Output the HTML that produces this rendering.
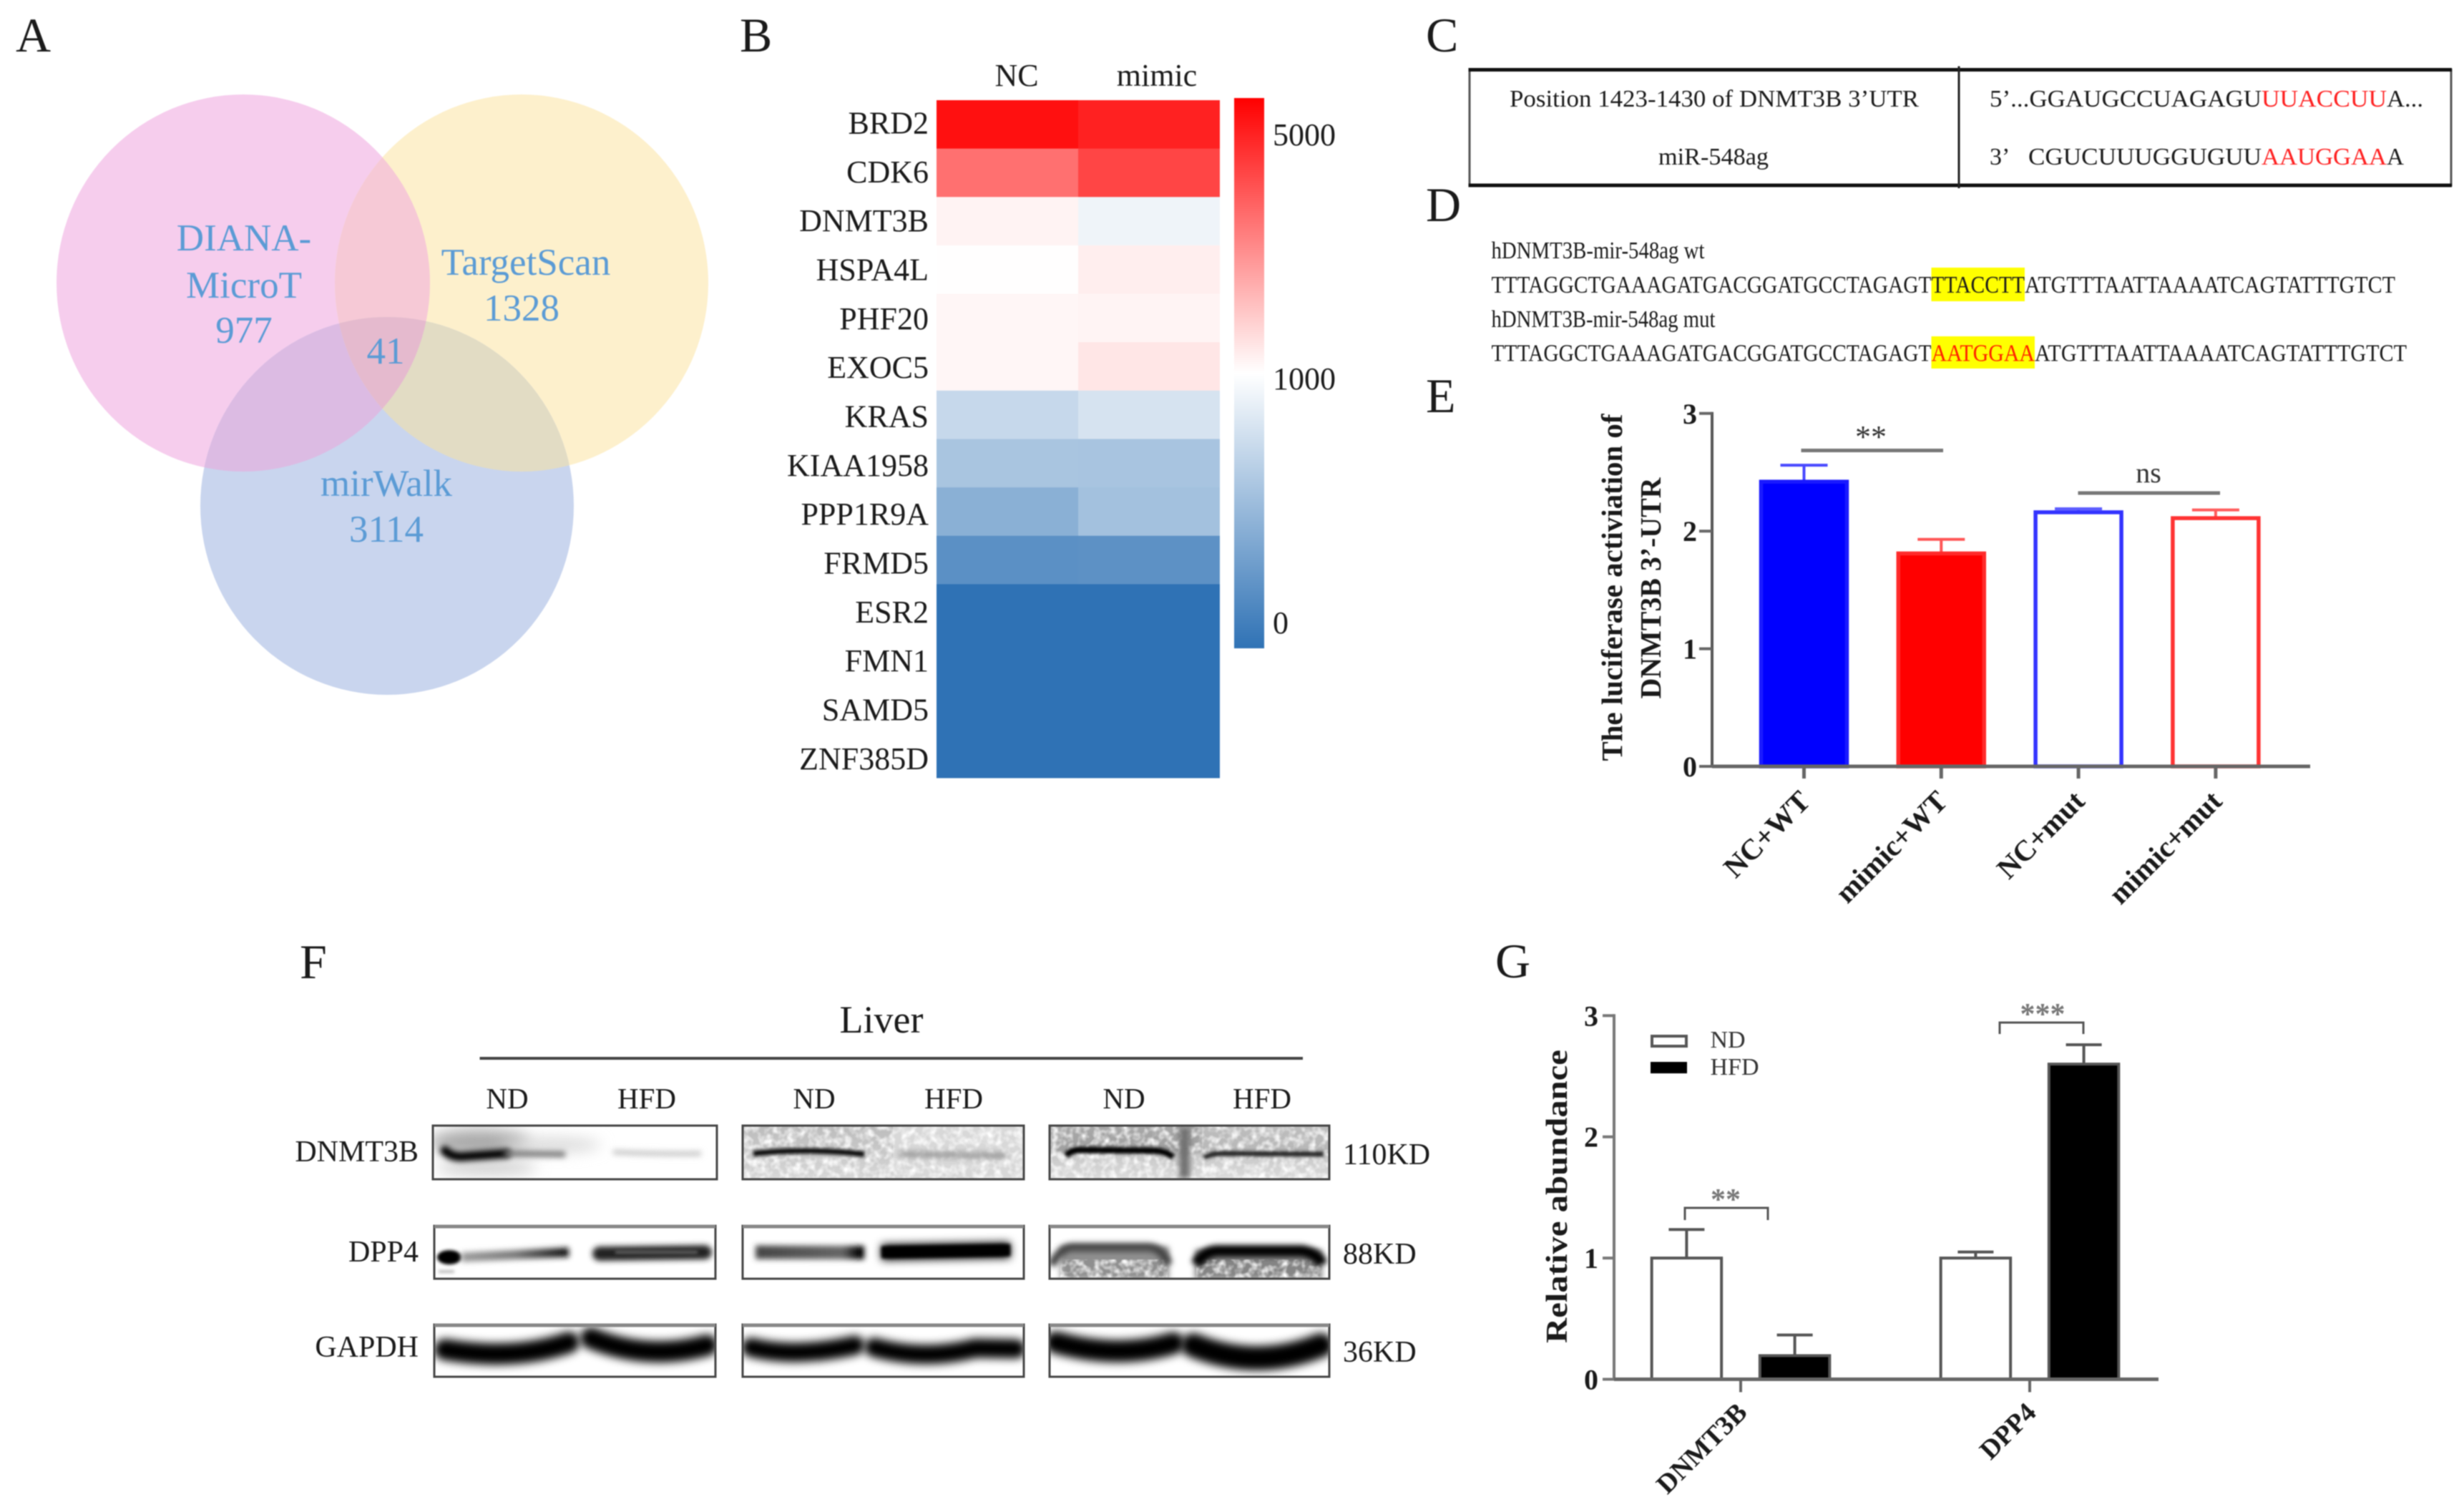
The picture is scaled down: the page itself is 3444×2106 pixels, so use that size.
<!DOCTYPE html>
<html>
<head>
<meta charset="utf-8">
<title>Multi-panel figure</title>
<style>
html,body{margin:0;padding:0;background:#fff;}
body{width:3444px;height:2106px;overflow:hidden;}
#figure{display:block;filter:blur(0.9px);}
text{font-family:"Liberation Serif","Noto Serif CJK SC",serif;fill:#1a1a1a;}
.letter{font-size:68px;}
.venn{font-size:53px;fill:#5b9bd5;text-anchor:middle;}
.seq{font-size:34px;}
.b{font-weight:bold;}
</style>
</head>
<body>
<svg id="figure" xmlns="http://www.w3.org/2000/svg" width="3444" height="2106" viewBox="0 0 3444 2106">
<defs>
<clipPath id="cp-pink"><ellipse cx="340" cy="395.5" rx="261" ry="263.5"/></clipPath>
<clipPath id="cp-yellow"><ellipse cx="729" cy="395.5" rx="261" ry="263.5"/></clipPath>
<linearGradient id="cb-grad" x1="0" y1="0" x2="0" y2="1">
<stop offset="0" stop-color="#ff0000"/><stop offset="0.5" stop-color="#ffffff"/><stop offset="1" stop-color="#2f72b5"/>
</linearGradient>
<linearGradient id="blot-bg-a" x1="0" y1="0" x2="0" y2="1"><stop offset="0" stop-color="#bcbcbc"/><stop offset="0.5" stop-color="#c8c8c8"/><stop offset="1" stop-color="#d8d8d8"/></linearGradient>
<linearGradient id="blot-bg-b" x1="0" y1="0" x2="0" y2="1"><stop offset="0" stop-color="#a8a8a8"/><stop offset="0.45" stop-color="#a0a0a0"/><stop offset="0.55" stop-color="#c8c8c8"/><stop offset="1" stop-color="#dcdcdc"/></linearGradient>
<linearGradient id="dpp4-band-a" gradientUnits="userSpaceOnUse" x1="645" y1="0" x2="795" y2="0"><stop offset="0" stop-color="#999"/><stop offset="0.5" stop-color="#777"/><stop offset="1" stop-color="#080808"/></linearGradient>
<linearGradient id="dpp4-band-b" gradientUnits="userSpaceOnUse" x1="1056" y1="0" x2="1208" y2="0"><stop offset="0" stop-color="#444"/><stop offset="0.8" stop-color="#666"/><stop offset="0.95" stop-color="#000"/><stop offset="1" stop-color="#000"/></linearGradient>
<filter id="bl2" filterUnits="userSpaceOnUse" x="560" y="1540" width="1340" height="420"><feGaussianBlur stdDeviation="2.2"/></filter>
<filter id="bl4" filterUnits="userSpaceOnUse" x="560" y="1540" width="1340" height="420"><feGaussianBlur stdDeviation="4"/></filter>
<filter id="bl6" filterUnits="userSpaceOnUse" x="560" y="1540" width="1340" height="420"><feGaussianBlur stdDeviation="6"/></filter>
<filter id="bl9" filterUnits="userSpaceOnUse" x="560" y="1540" width="1340" height="420"><feGaussianBlur stdDeviation="10"/></filter>
<filter id="noise" x="0" y="0" width="100%" height="100%"><feTurbulence type="fractalNoise" baseFrequency="0.1" numOctaves="2" seed="4"/><feColorMatrix type="matrix" values="0 0 0 0 1  0 0 0 0 1  0 0 0 0 1  2.2 0 0 0 -0.85"/></filter>
<clipPath id="c11"><rect x="605" y="1573" width="397" height="75"/></clipPath>
<clipPath id="c12"><rect x="1038" y="1573" width="393" height="75"/></clipPath>
<clipPath id="c13"><rect x="1467" y="1573" width="391" height="75"/></clipPath>
<clipPath id="c21"><rect x="607" y="1713" width="393" height="74"/></clipPath>
<clipPath id="c22"><rect x="1038" y="1713" width="393" height="74"/></clipPath>
<clipPath id="c23"><rect x="1467" y="1713" width="391" height="74"/></clipPath>
<clipPath id="c31"><rect x="607" y="1851" width="393" height="73"/></clipPath>
<clipPath id="c32"><rect x="1038" y="1851" width="393" height="73"/></clipPath>
<clipPath id="c33"><rect x="1467" y="1851" width="391" height="73"/></clipPath>
</defs>

<!-- Panel A: Venn -->
<g>
<text class="letter" x="22" y="72">A</text>
<ellipse cx="340" cy="395.5" rx="261" ry="263.5" fill="#f6cded"/>
<ellipse cx="729" cy="395.5" rx="261" ry="263.5" fill="#fdf0cc"/>
<ellipse cx="541" cy="707" rx="261" ry="264" fill="#c9d5ee"/>
<g clip-path="url(#cp-pink)"><ellipse cx="729" cy="395.5" rx="261" ry="263.5" fill="#f6c9d6"/></g>
<g clip-path="url(#cp-pink)"><ellipse cx="541" cy="707" rx="261" ry="264" fill="#dcbbe3"/></g>
<g clip-path="url(#cp-yellow)"><ellipse cx="541" cy="707" rx="261" ry="264" fill="#e2dcc4"/></g>
<g clip-path="url(#cp-pink)"><g clip-path="url(#cp-yellow)"><ellipse cx="541" cy="707" rx="261" ry="264" fill="#e5bace"/></g></g>
<text class="venn" x="341" y="350">DIANA-</text>
<text class="venn" x="341" y="416">MicroT</text>
<text class="venn" x="341" y="479">977</text>
<text class="venn" x="735" y="384">TargetScan</text>
<text class="venn" x="729" y="448">1328</text>
<text class="venn" x="539" y="508">41</text>
<text class="venn" x="540" y="693">mirWalk</text>
<text class="venn" x="540" y="757">3114</text>
</g>

<!-- Panel B: heatmap -->
<g id="panel-b">
<text class="letter" x="1034" y="72">B</text>
<text x="1421" y="120" font-size="44" text-anchor="middle">NC</text>
<text x="1617" y="120" font-size="44" text-anchor="middle">mimic</text>
<rect x="1725" y="137" width="42" height="769" fill="url(#cb-grad)"/>
</g>

<!-- Panel C: table -->
<g>
<text class="letter" x="1993" y="72">C</text>
<rect x="2054" y="97.5" width="1372" height="161.5" fill="none" stroke="#555" stroke-width="3"/>
<line x1="2052.5" y1="97.5" x2="3427" y2="97.5" stroke="#111" stroke-width="5"/>
<line x1="2052.5" y1="259" x2="3427" y2="259" stroke="#111" stroke-width="5"/>
<line x1="2738" y1="92.5" x2="2738" y2="263" stroke="#222" stroke-width="3"/>
<text class="seq" x="2110" y="149" textLength="572" lengthAdjust="spacingAndGlyphs">Position 1423-1430 of DNMT3B 3’UTR</text>
<text class="seq" x="2318" y="230" textLength="154" lengthAdjust="spacingAndGlyphs">miR-548ag</text>
<text class="seq" x="2781" y="149" textLength="380" lengthAdjust="spacingAndGlyphs">5’...GGAUGCCUAGAGU</text>
<text class="seq" x="3161" y="149" textLength="175" lengthAdjust="spacingAndGlyphs" style="fill:#ff2020">UUACCUU</text>
<text class="seq" x="3336" y="149" textLength="51" lengthAdjust="spacingAndGlyphs">A...</text>
<text class="seq" x="2781" y="230">3’</text>
<text class="seq" x="2835" y="230" textLength="326" lengthAdjust="spacingAndGlyphs">CGUCUUUGGUGUU</text>
<text class="seq" x="3161" y="230" textLength="175" lengthAdjust="spacingAndGlyphs" style="fill:#ff2020">AAUGGAA</text>
<text class="seq" x="3336" y="230" textLength="24" lengthAdjust="spacingAndGlyphs">A</text>
</g>

<!-- Panel D: sequences -->
<g>
<text class="letter" x="1993" y="309">D</text>
<text class="seq" x="2084.5" y="361" textLength="298" lengthAdjust="spacingAndGlyphs">hDNMT3B-mir-548ag wt</text>
<rect x="2699.5" y="374" width="130.5" height="47" fill="#ffff00"/>
<text class="seq" x="2084.5" y="409" textLength="615" lengthAdjust="spacingAndGlyphs">TTTAGGCTGAAAGATGACGGATGCCTAGAGT</text>
<text class="seq" x="2699.5" y="409" textLength="130.5" lengthAdjust="spacingAndGlyphs">TTACCTT</text>
<text class="seq" x="2830" y="409" textLength="518" lengthAdjust="spacingAndGlyphs">ATGTTTAATTAAAATCAGTATTTGTCT</text>
<text class="seq" x="2084.5" y="457" textLength="313" lengthAdjust="spacingAndGlyphs">hDNMT3B-mir-548ag mut</text>
<rect x="2699.5" y="470" width="144.5" height="45" fill="#ffff00"/>
<text class="seq" x="2084.5" y="504.5" textLength="615" lengthAdjust="spacingAndGlyphs">TTTAGGCTGAAAGATGACGGATGCCTAGAGT</text>
<text class="seq" x="2699.5" y="504.5" textLength="144.5" lengthAdjust="spacingAndGlyphs" style="fill:#ff2000">AATGGAA</text>
<text class="seq" x="2844" y="504.5" textLength="520" lengthAdjust="spacingAndGlyphs">ATGTTTAATTAAAATCAGTATTTGTCT</text>
</g>

<!-- Panel E: luciferase bars -->
<g id="panel-e">
<text class="letter" x="1993" y="576">E</text>
<text class="b" transform="translate(2267,821) rotate(-90)" font-size="41" text-anchor="middle" textLength="485" lengthAdjust="spacingAndGlyphs">The luciferase activiation of</text>
<text class="b" transform="translate(2321,822) rotate(-90)" font-size="41" text-anchor="middle" textLength="309" lengthAdjust="spacingAndGlyphs">DNMT3B 3’-UTR</text>
<line x1="2517.5" y1="629.5" x2="2716" y2="629.5" stroke="#777" stroke-width="5"/>
<text x="2615" y="625" font-size="44" text-anchor="middle" style="fill:#333">**</text>
<line x1="2904.5" y1="689" x2="3103" y2="689" stroke="#777" stroke-width="5"/>
<text x="3003" y="674" font-size="40" text-anchor="middle" style="fill:#333">ns</text>
</g>

<!-- Panel F: western blots -->
<g>
<text class="letter" x="419" y="1367">F</text>
<text x="1232" y="1443" font-size="54" text-anchor="middle">Liver</text>
<line x1="670.5" y1="1479" x2="1821" y2="1479" stroke="#444" stroke-width="4"/>
<g font-size="41" text-anchor="middle">
<text x="709" y="1549">ND</text>
<text x="904" y="1549">HFD</text>
<text x="1138" y="1549">ND</text>
<text x="1333" y="1549">HFD</text>
<text x="1571" y="1549">ND</text>
<text x="1764" y="1549">HFD</text>
</g>
<g font-size="42" text-anchor="end">
<text x="585" y="1623">DNMT3B</text>
<text x="585" y="1763">DPP4</text>
<text x="585" y="1896">GAPDH</text>
</g>
<g font-size="42">
<text x="1877" y="1627">110KD</text>
<text x="1877" y="1766">88KD</text>
<text x="1877" y="1903">36KD</text>
</g>

<g clip-path="url(#c11)">
<ellipse cx="670" cy="1596" rx="70" ry="18" fill="#a8a8a8" filter="url(#bl9)"/>
<ellipse cx="770" cy="1600" rx="70" ry="10" fill="#d8d8d8" filter="url(#bl9)"/>
<ellipse cx="680" cy="1632" rx="70" ry="11" fill="#d0d0d0" filter="url(#bl9)"/>
<path d="M622,1608 Q632,1618 650,1616 L708,1612" stroke="#000" stroke-width="13" fill="none" stroke-linecap="round" filter="url(#bl4)"/>
<path d="M705,1612 L790,1613" stroke="#777" stroke-width="8" fill="none" filter="url(#bl4)"/>
<path d="M857,1610 Q920,1613 980,1612" stroke="#c8c8c8" stroke-width="7" fill="none" filter="url(#bl4)"/>
</g>
<g clip-path="url(#c12)">
<rect x="1038" y="1573" width="210" height="75" fill="url(#blot-bg-a)"/>
<rect x="1248" y="1573" width="183" height="75" fill="#d8d8d8"/>
<rect x="1038" y="1573" width="393" height="75" filter="url(#noise)"/>
<path d="M1053,1612 Q1130,1604 1208,1613" stroke="#111" stroke-width="8" fill="none" filter="url(#bl2)"/>
<path d="M1257,1613 L1407,1615" stroke="#959595" stroke-width="8" fill="none" filter="url(#bl4)"/>
</g>
<g clip-path="url(#c13)">
<rect x="1467" y="1573" width="391" height="75" fill="url(#blot-bg-b)"/>
<rect x="1680" y="1573" width="178" height="36" fill="#ffffff" opacity="0.25"/>
<rect x="1467" y="1573" width="391" height="75" filter="url(#noise)"/>
<rect x="1648" y="1575" width="15" height="72" fill="#707070" filter="url(#bl4)"/>
<path d="M1490,1615 Q1497,1607 1510,1607 L1612,1608 Q1628,1608 1640,1617" stroke="#000" stroke-width="9" fill="none" filter="url(#bl2)"/>
<path d="M1683,1618 Q1692,1612 1710,1612 L1850,1613" stroke="#222" stroke-width="7" fill="none" filter="url(#bl2)"/>
</g>

<g clip-path="url(#c21)">
<ellipse cx="628" cy="1757" rx="17" ry="10" fill="#000" filter="url(#bl2)"/>
<path d="M645,1757 L795,1750" stroke="url(#dpp4-band-a)" stroke-width="13" fill="none" filter="url(#bl4)"/>
<rect x="613" y="1775" width="22" height="4" fill="#bbb" filter="url(#bl2)"/>
<path d="M838,1752 L985,1750" stroke="#222" stroke-width="20" fill="none" stroke-linecap="round" filter="url(#bl4)"/>
<path d="M860,1750 L975,1750" stroke="#666" stroke-width="4" fill="none" filter="url(#bl2)"/>
</g>
<g clip-path="url(#c22)">
<path d="M1056,1750 L1208,1750.5" stroke="url(#dpp4-band-b)" stroke-width="19" fill="none" filter="url(#bl4)"/>
<path d="M1232,1750 L1412,1747" stroke="#000" stroke-width="22" fill="none" filter="url(#bl6)"/>
<path d="M1232,1750 L1412,1747" stroke="#000" stroke-width="17" fill="none" filter="url(#bl2)"/>
</g>
<g clip-path="url(#c23)">
<rect x="1482" y="1742" width="152" height="46" fill="#8f8f8f" filter="url(#bl4)"/>
<rect x="1670" y="1746" width="178" height="42" fill="#858585" filter="url(#bl4)"/>
<rect x="1482" y="1760" width="150" height="27" filter="url(#noise)"/>
<rect x="1672" y="1760" width="176" height="27" filter="url(#noise)"/>
<path d="M1470,1768 Q1482,1744 1498,1743 L1605,1743 Q1625,1744 1633,1767" stroke="#444" stroke-width="12" fill="none" filter="url(#bl4)"/>
<path d="M1672,1767 Q1682,1750 1700,1748 L1820,1748 Q1842,1752 1848,1767" stroke="#000" stroke-width="16" fill="none" filter="url(#bl4)"/>
</g>

<g clip-path="url(#c31)">
<path d="M622,1886 Q720,1902 795,1876" stroke="#000" stroke-width="30" fill="none" stroke-linecap="round" filter="url(#bl6)"/>
<path d="M826,1870 Q905,1902 988,1880" stroke="#000" stroke-width="30" fill="none" stroke-linecap="round" filter="url(#bl6)"/>
</g>
<g clip-path="url(#c32)">
<path d="M1050,1883 Q1112,1898 1195,1880" stroke="#000" stroke-width="27" fill="none" stroke-linecap="round" filter="url(#bl6)"/>
<path d="M1222,1883 Q1292,1902 1363,1884 L1420,1885" stroke="#050505" stroke-width="27" fill="none" stroke-linecap="round" filter="url(#bl6)"/>
</g>
<g clip-path="url(#c33)">
<path d="M1476,1876 Q1563,1900 1640,1877" stroke="#000" stroke-width="31" fill="none" stroke-linecap="round" filter="url(#bl6)"/>
<path d="M1668,1880 Q1757,1916 1846,1880" stroke="#000" stroke-width="34" fill="none" stroke-linecap="round" filter="url(#bl6)"/>
</g>

<g fill="none" stroke="#444" stroke-width="3">
<rect x="605" y="1573" width="397" height="75"/>
<rect x="1038" y="1573" width="393" height="75"/>
<rect x="1467" y="1573" width="391" height="75"/>
<rect x="607" y="1713" width="393" height="74"/>
<rect x="1038" y="1713" width="393" height="74"/>
<rect x="1467" y="1713" width="391" height="74"/>
<rect x="607" y="1851" width="393" height="73"/>
<rect x="1038" y="1851" width="393" height="73"/>
<rect x="1467" y="1851" width="391" height="73"/>
</g>
<g stroke="#888" stroke-width="5">
<line x1="607" y1="1714" x2="1000" y2="1714"/>
<line x1="1038" y1="1714" x2="1431" y2="1714"/>
<line x1="1467" y1="1714" x2="1858" y2="1714"/>
<line x1="607" y1="1852" x2="1000" y2="1852"/>
<line x1="1038" y1="1852" x2="1431" y2="1852"/>
<line x1="1467" y1="1852" x2="1858" y2="1852"/>
</g>
</g>

<!-- Panel G -->
<g id="panel-g">
<text class="letter" x="2090" y="1366">G</text>
<text class="b" transform="translate(2190,1672) rotate(-90)" font-size="42" text-anchor="middle" textLength="410" lengthAdjust="spacingAndGlyphs">Relative abundance</text>
<rect x="2309" y="1448" width="48" height="14" fill="#fff" stroke="#555" stroke-width="4"/>
<rect x="2307" y="1484" width="51" height="16" fill="#000"/>
<text x="2390.5" y="1464" font-size="34" style="fill:#333">ND</text>
<text x="2390.5" y="1502" font-size="34" style="fill:#333">HFD</text>
<path d="M2355,1705 V1688 H2471 V1705" fill="none" stroke="#555" stroke-width="3"/>
<text x="2412" y="1690" font-size="42" font-weight="bold" text-anchor="middle" style="fill:#777">**</text>
<path d="M2795,1445 V1429 H2912 V1445" fill="none" stroke="#555" stroke-width="3"/>
<text x="2855" y="1431" font-size="42" font-weight="bold" text-anchor="middle" style="fill:#777">***</text>
</g>
</svg>

<script>
// ---- Panel B data ----
const heatGenes = ['BRD2','CDK6','DNMT3B','HSPA4L','PHF20','EXOC5','KRAS','KIAA1958','PPP1R9A','FRMD5','ESR2','FMN1','SAMD5','ZNF385D'];
const heatNC = [4750,3240,1190,1010,1140,1140,726,587,437,212,0,0,0,0];
const heatMimic = [4480,3920,923,1270,1170,1390,803,580,558,221,0,0,0,0];
const colorbarTicks = [5000,1000,0];

// ---- Panel E data ----
const eCategories = ['NC+WT','mimic+WT','NC+mut','mimic+mut'];
const eMeans = [2.42,1.81,2.16,2.11];
const eErrors = [0.14,0.12,0.03,0.07];
const eTicks = [0,1,2,3];

// ---- Panel G data ----
const gCategories = ['DNMT3B','DPP4'];
const gND = [1.0,1.0];
const gHFD = [0.195,2.6];
const gNDErrors = [0.235,0.05];
const gHFDErrors = [0.17,0.16];
const gTicks = [0,1,2,3];

const NS = 'http://www.w3.org/2000/svg';
function svgEl(tag, attrs, parent, txt) {
  const el = document.createElementNS(NS, tag);
  for (const k in attrs) el.setAttribute(k, attrs[k]);
  if (txt !== undefined) el.textContent = txt;
  parent.appendChild(el);
  return el;
}

// ---- Panel B ----
const panelB = document.getElementById('panel-b');
const heatX = c => 1309 + c * 198;
const heatY = r => 140 + r * 67.64;
const heatLabelY = r => 186.5 + r * 68.33;
function heatColor(v) {
  const lerp = (a, b, t) => Math.round(a + (b - a) * t);
  if (v >= 1000) {
    const t = Math.min(1, (v - 1000) / 4000);
    return 'rgb(255,' + lerp(255, 0, t) + ',' + lerp(255, 0, t) + ')';
  }
  const t = Math.max(0, (1000 - v) / 1000);
  return 'rgb(' + lerp(255, 47, t) + ',' + lerp(255, 114, t) + ',' + lerp(255, 181, t) + ')';
}
heatGenes.forEach((gene, r) => {
  const label = svgEl('text', {x: 1298, y: heatLabelY(r), 'font-size': 44, 'text-anchor': 'end'}, panelB, gene);
  
  
  const a = svgEl('rect', {x: heatX(0), y: heatY(r), width: 198.5, height: 68.1, fill: heatColor(heatNC[r])}, panelB);
  
  
  const b = svgEl('rect', {x: heatX(1), y: heatY(r), width: 198, height: 68.1, fill: heatColor(heatMimic[r])}, panelB);
  
  
});
const cbY = v => v >= 1000 ? 530 - (v - 1000) / 4000 * 341 : 871 - v / 1000 * 341;
colorbarTicks.forEach(t => {
  const tl = svgEl('text', {x: 1779, y: cbY(t) + 14, 'font-size': 44}, panelB, String(t));
  
  
});

// ---- Panel E ----
const panelE = document.getElementById('panel-e');
const eY = v => 1071 - v * 164.4;
const eX = i => 2521.5 + i * 191.8;
const eBarW = 120;
const eStroke = ['#1a1aff','#ff2a2a','#3333ff','#ff3333'];
const eFill = ['#0000ff','#ff0000','none','none'];
eCategories.forEach((cat, i) => {
  const cx = eX(i);
  const err = svgEl('path', {d: 'M' + cx + ',' + eY(eMeans[i]) + ' V' + eY(eMeans[i] + eErrors[i]) + ' M' + (cx - 33) + ',' + eY(eMeans[i] + eErrors[i]) + ' H' + (cx + 33), fill: 'none', stroke: eStroke[i], 'stroke-width': 4, opacity: 0.8}, panelE);
  
  
  const bar = svgEl('rect', {x: cx - eBarW / 2, y: eY(eMeans[i]), width: eBarW, height: eY(0) - eY(eMeans[i]), fill: eFill[i], stroke: eStroke[i], 'stroke-width': 5.5}, panelE);
  
  
  const tick = svgEl('line', {x1: cx, x2: cx, y1: eY(0), y2: eY(0) + 17, stroke: '#666', 'stroke-width': 5}, panelE);
  
  
  const tx = cx + 11, ty = 1122;
  const lab = svgEl('text', {transform: 'translate(' + tx + ',' + ty + ') rotate(-45)', 'font-size': 41, 'font-weight': 'bold', 'text-anchor': 'end'}, panelE, cat);
  
  
});
const eYAxis = svgEl('line', {x1: 2393, x2: 2393, y1: eY(3) - 2, y2: eY(0) + 2, stroke: '#555', 'stroke-width': 4}, panelE);


const eXAxis = svgEl('line', {x1: 2393, x2: 3229, y1: eY(0), y2: eY(0), stroke: '#666', 'stroke-width': 5}, panelE);


eTicks.forEach(t => {
  const tk = svgEl('line', {x1: 2375, x2: 2393, y1: eY(t), y2: eY(t), stroke: '#666', 'stroke-width': 4}, panelE);
  
  
  const tl = svgEl('text', {x: 2372, y: eY(t) + 14, 'font-size': 40, 'font-weight': 'bold', 'text-anchor': 'end'}, panelE, String(t));
  
  
});

// ---- Panel G ----
const panelG = document.getElementById('panel-g');
const gY = v => 1927.5 - v * 169.4;
const gX = i => 2433 + i * 404;
const gBarW = 97.5, gOff = 75.6;
function gBar(cx, mean, errv, filled) {
  const err = svgEl('path', {d: 'M' + cx + ',' + gY(mean) + ' V' + gY(mean + errv) + ' M' + (cx - 25) + ',' + gY(mean + errv) + ' H' + (cx + 25), fill: 'none', stroke: '#555', 'stroke-width': 4}, panelG);
  
  
  const bar = svgEl('rect', {x: cx - gBarW / 2, y: gY(mean), width: gBarW, height: gY(0) - gY(mean), fill: filled ? '#000' : '#fff', stroke: '#555', 'stroke-width': 4}, panelG);
  
  
}
gCategories.forEach((cat, i) => {
  gBar(gX(i) - gOff, gND[i], gNDErrors[i], false);
  gBar(gX(i) + gOff, gHFD[i], gHFDErrors[i], true);
  const tick = svgEl('line', {x1: gX(i), x2: gX(i), y1: gY(0), y2: gY(0) + 18, stroke: '#666', 'stroke-width': 4}, panelG);
  
  
  const lab = svgEl('text', {transform: 'translate(' + (gX(i) + 11) + ',1976) rotate(-45)', 'font-size': 38, 'font-weight': 'bold', 'text-anchor': 'end'}, panelG, cat);
  
  
});
const gYAxis = svgEl('line', {x1: 2256, x2: 2256, y1: gY(3) - 2, y2: gY(0) + 2, stroke: '#777', 'stroke-width': 4}, panelG);


const gXAxis = svgEl('line', {x1: 2256, x2: 3017, y1: gY(0), y2: gY(0), stroke: '#666', 'stroke-width': 5}, panelG);


gTicks.forEach(t => {
  const tk = svgEl('line', {x1: 2240, x2: 2256, y1: gY(t), y2: gY(t), stroke: '#777', 'stroke-width': 4}, panelG);
  
  
  const tl = svgEl('text', {x: 2234, y: gY(t) + 14, 'font-size': 40, 'font-weight': 'bold', 'text-anchor': 'end'}, panelG, String(t));
  
  
});
</script>
</body>
</html>
